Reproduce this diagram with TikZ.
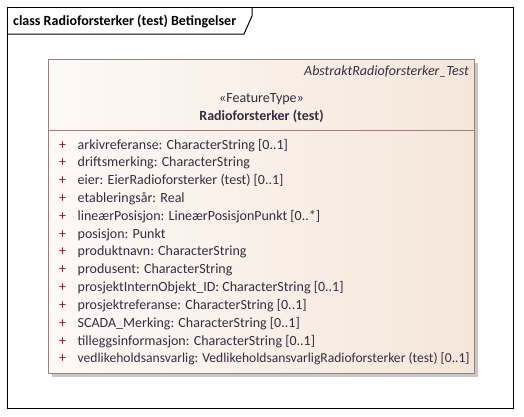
\documentclass[tikz,border=0pt]{standalone}
\usepackage{fontspec}
\setmainfont{Carlito}
\definecolor{boxline}{RGB}{155,128,128}
\definecolor{gradL}{RGB}{253,249,246}
\definecolor{gradR}{RGB}{245,230,218}
\definecolor{plusc}{RGB}{128,30,70}
\definecolor{txtc}{RGB}{55,45,65}
\definecolor{shadowc}{RGB}{200,200,200}
\tikzset{
  attr/.style={anchor=base west, inner sep=0pt, text=txtc, font=\fontsize{14}{16}\selectfont},
  plus/.style={anchor=base, inner sep=0pt, text=plusc, font=\fontsize{14}{16}\selectfont},
  hdr/.style={inner sep=0pt, text=txtc, font=\fontsize{14}{16}\selectfont},
}
\begin{document}
\begin{tikzpicture}[x=1pt,y=-1pt]
\useasboundingbox (0,0) rectangle (524,416);
\fill[white] (0,0) rectangle (524,416);
% frame
\draw[line width=1pt] (7,7) rectangle (513,408);
\draw[line width=1pt] (7,34) -- (244,34) -- (252,16) -- (252,7);
\node[anchor=base west, inner sep=0pt, font=\bfseries\fontsize{14}{16}\selectfont] (title) at (13,25) {class Radioforsterker (test) Betingelser};
% class box
\fill[shadowc] (52,63) rectangle (478,377);
\shade[left color=gradL, right color=gradR] (48.5,59.5) rectangle (474.5,373.5);
\draw[boxline, line width=1pt] (48.5,59.5) rectangle (474.5,373.5);
\draw[boxline, line width=1pt] (48.5,130.5) -- (474.5,130.5);
\node[hdr, anchor=base east, font=\itshape\fontsize{14}{16}\selectfont] (abs) at (469,75) {AbstraktRadioforsterker\_Test};
\node[hdr, anchor=base] (st) at (261.5,102) {«FeatureType»};
\node[hdr, anchor=base, font=\bfseries\fontsize{14}{16}\selectfont] (nm) at (261.5,120) {Radioforsterker (test)};
% attributes
\foreach \t [count=\i] in {
 {arkivreferanse: CharacterString [0..1]},
 {driftsmerking: CharacterString},
 {eier: EierRadioforsterker (test) [0..1]},
 {etableringsår: Real},
 {lineærPosisjon: LineærPosisjonPunkt [0..*]},
 {posisjon: Punkt},
 {produktnavn: CharacterString},
 {produsent: CharacterString},
 {prosjektInternObjekt\_ID: CharacterString [0..1]},
 {prosjektreferanse: CharacterString [0..1]},
 {SCADA\_Merking: CharacterString [0..1]},
 {tilleggsinformasjon: CharacterString [0..1]}}
{
  \node[plus] (p\i) at (62.5,{149+(\i-1)*17.83}) {+};
  \node[attr] (a\i) at (77.5,{149+(\i-1)*17.83}) {\t};
}
\node[plus] (p13) at (62.5,{149+12*17.83}) {+};
\node[attr] (a13) at (77.5,{149+12*17.83}) {\resizebox{392pt}{!}{vedlikeholdsansvarlig: VedlikeholdsansvarligRadioforsterker (test) [0..1]}};
\end{tikzpicture}
\end{document}
